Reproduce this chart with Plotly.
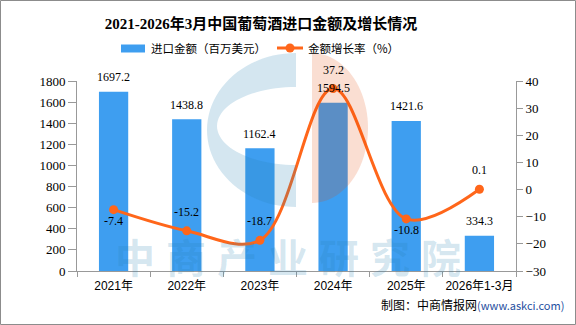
import math
import plotly.graph_objects as go

# ---- data ----
categories = ["2021年", "2022年", "2023年", "2024年", "2025年", "2026年1-3月"]
import_value = [1697.2, 1438.8, 1162.4, 1594.5, 1421.6, 334.3]   # 百万美元
growth_rate = [-7.4, -15.2, -18.7, 37.2, -10.8, 0.1]             # %
growth_label_side = ["below", "above", "above", "above", "below", "above"]
left_ticks = list(range(0, 1801, 200))
right_ticks = list(range(-30, 41, 10))

title_text = "2021-2026年3月中国葡萄酒进口金额及增长情况"
bar_name = "进口金额（百万美元）"
line_name = "金额增长率（%）"
source_text = "制图：中商情报网"
source_url = "(www.askci.com)"
watermark_text = "中商产业研究院"

# ---- styling ----
BAR_COLOR = "#3E9EF0"
LINE_COLOR = "#FF661A"
AXIS_COLOR = "#999999"
WM_BLUE = "rgba(40,130,180,0.2)"
WM_PINK = "rgba(227,74,8,0.18)"
SERIF = "Liberation Serif, Noto Sans CJK SC, serif"
SANS = "Liberation Sans, Noto Sans CJK SC, sans-serif"
CJK = "Noto Sans CJK SC, sans-serif"

W, H = 576, 325
ML, MR, MT, MB = 77, 60, 81, 54
PW = W - ML - MR
PH = H - MT - MB


def fx(px):
    """pixel x -> paper x"""
    return (px - ML) / PW


def fy(py):
    """pixel y (from top) -> paper y"""
    return (H - MB - py) / PH


def arc(cx, cy, rx, ry, a0, a1, n=48):
    pts = []
    for i in range(n + 1):
        a = math.radians(a0 + (a1 - a0) * i / n)
        pts.append((cx + rx * math.cos(a), cy - ry * math.sin(a)))
    return pts


def to_path(pts):
    s = "M " + " L ".join(f"{fx(x):.5f},{fy(y):.5f}" for x, y in pts)
    return s + " Z"


fig = go.Figure()

fig.add_trace(go.Bar(
    x=categories, y=import_value, name=bar_name,
    marker=dict(color=BAR_COLOR, line=dict(width=0)),
    width=0.4, yaxis="y", showlegend=False,
))

fig.add_trace(go.Scatter(
    x=categories, y=growth_rate, name=line_name, yaxis="y2",
    mode="lines+markers",
    line=dict(color=LINE_COLOR, width=3, shape="spline", smoothing=1.0),
    marker=dict(color=LINE_COLOR, size=9),
    showlegend=False,
))

annotations = []
label_font = dict(family=SERIF, size=12, color="#000000")

# value labels on bars
for c, v in zip(categories, import_value):
    annotations.append(dict(
        x=c, y=v, xref="x", yref="y", text=f"{v:.1f}", showarrow=False,
        yshift=14.5, yanchor="middle", font=label_font,
    ))

# value labels on the growth line
for c, v, side in zip(categories, growth_rate, growth_label_side):
    annotations.append(dict(
        x=c, y=v, xref="x", yref="y2", text=f"{v:.1f}", showarrow=False,
        yshift=19 if side == "above" else -11.5, yanchor="middle",
        font=label_font,
    ))

# custom legend
shapes = []
shapes.append(dict(type="rect", xref="paper", yref="paper",
                   x0=fx(121), x1=fx(145), y0=fy(52.5), y1=fy(44.5),
                   fillcolor=BAR_COLOR, line=dict(width=0), layer="above"))
annotations.append(dict(x=fx(149), y=fy(48), xref="paper", yref="paper",
                        text=bar_name, showarrow=False, xanchor="left",
                        yanchor="middle", font=dict(family=CJK, size=11.5, color="#000")))
shapes.append(dict(type="line", xref="paper", yref="paper",
                   x0=fx(277), x1=fx(303), y0=fy(48), y1=fy(48),
                   line=dict(color=LINE_COLOR, width=3), layer="above"))
shapes.append(dict(type="circle", xref="paper", yref="paper",
                   x0=fx(285.5), x1=fx(294.5), y0=fy(52.5), y1=fy(43.5),
                   fillcolor=LINE_COLOR, line=dict(width=0), layer="above"))
annotations.append(dict(x=fx(306), y=fy(48), xref="paper", yref="paper",
                        text=line_name, showarrow=False, xanchor="left",
                        yanchor="middle", font=dict(family=CJK, size=11.5, color="#000")))

# watermark logo
blue_pts = arc(296, 130, 89, 77, 90, 270) + arc(296, 126, 79, 39, 270, 90)
shapes.append(dict(type="path", xref="paper", yref="paper", path=to_path(blue_pts),
                   fillcolor=WM_BLUE, line=dict(width=0), layer="above"))
pink_pts = arc(312, 128, 56, 75, 90, -90)
shapes.append(dict(type="path", xref="paper", yref="paper", path=to_path(pink_pts),
                   fillcolor=WM_PINK, line=dict(width=0), layer="above"))

# watermark text
for i, ch in enumerate(watermark_text):
    annotations.append(dict(
        x=fx(135 + 51 * i), y=fy(256), xref="paper", yref="paper",
        text=ch, showarrow=False, xanchor="center", yanchor="middle",
        borderpad=0,
        font=dict(family=CJK, size=40, color=WM_BLUE, weight="bold"),
    ))

# source note
annotations.append(dict(
    x=fx(566), y=fy(304), xref="paper", yref="paper", showarrow=False,
    xanchor="right", yanchor="middle",
    text=f"{source_text}<span style='color:#1F4FA0;font-size:11px'>{source_url}</span>",
    font=dict(family=CJK, size=12, color="#000"),
))

# outer border
shapes.append(dict(type="rect", xref="paper", yref="paper",
                   x0=fx(0.5), x1=fx(575.5), y0=fy(324.5), y1=fy(0.5),
                   line=dict(color="#8C8C8C", width=1), fillcolor="rgba(0,0,0,0)",
                   layer="above"))

fig.update_layout(
    width=W, height=H, autosize=False,
    margin=dict(l=ML, r=MR, t=MT, b=MB, pad=0),
    paper_bgcolor="white", plot_bgcolor="white",
    bargap=0.6,
    title=dict(text=f"<b>{title_text}</b>", x=261 / W, xref="container",
               xanchor="center", y=1 - 24 / H, yref="container", yanchor="middle",
               font=dict(family=SERIF, size=15, color="#000")),
    xaxis=dict(
        type="category", showline=True, linecolor=AXIS_COLOR, linewidth=1,
        ticks="outside", ticklen=5, tickcolor=AXIS_COLOR, tickson="boundaries",
        showgrid=False, zeroline=False, tickangle=0, automargin=False,
        ticklabelstandoff=4,
        tickfont=dict(family=SANS, size=12, color="#000"),
    ),
    yaxis=dict(
        range=[0, 1800], tickvals=left_ticks, showline=True, linecolor=AXIS_COLOR,
        ticks="outside", ticklen=8, tickcolor=AXIS_COLOR, showgrid=False,
        zeroline=False, automargin=False,
        tickfont=dict(family=SERIF, size=13, color="#000"),
    ),
    yaxis2=dict(
        range=[-30, 40], tickvals=right_ticks, overlaying="y", side="right",
        showline=True, linecolor=AXIS_COLOR, ticks="outside", ticklen=6,
        tickcolor=AXIS_COLOR, showgrid=False, zeroline=False, automargin=False,
        tickfont=dict(family=SERIF, size=13, color="#000"),
    ),
    annotations=annotations,
    shapes=shapes,
    showlegend=False,
)

fig.write_html("out.html")
